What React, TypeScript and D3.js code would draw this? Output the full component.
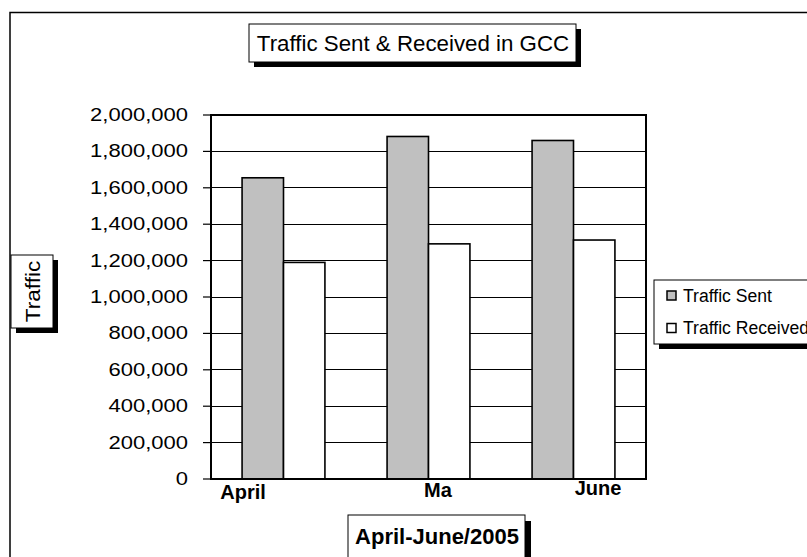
import * as d3 from 'd3';

const categories = ['April', 'Ma', 'June'];
const trafficSent = [1655000, 1882000, 1860000];
const trafficReceived = [1190000, 1292000, 1313000];
const yTicks = [0, 200000, 400000, 600000, 800000, 1000000, 1200000, 1400000, 1600000, 1800000, 2000000];
const seriesNames = ['Traffic Sent', 'Traffic Received'];

const WIDTH = 807;
const HEIGHT = 557;
const FONT = "Arial, 'Liberation Sans', sans-serif";

// plot area box (pixels)
const plot = { left: 211, right: 646, top: 115, bottom: 479 };

// shift of each category label from its band centre, as in the original (labels were clipped/offset)
const labelShift = [{ dx: -40.5, y: 499 }, { dx: 9.5, y: 497 }, { dx: 24.5, y: 495 }];

const ShadowBox = ({ x, y, w, h, off = 5 }: { x: number; y: number; w: number; h: number; off?: number }) => (
  <g>
    <rect x={x + off} y={y + off} width={w} height={h} fill="#000" />
    <rect x={x} y={y} width={w} height={h} fill="#fff" stroke="#000" strokeWidth={1} />
  </g>
);

export default function App() {
  const yScale = d3.scaleLinear().domain([0, 2000000]).range([plot.bottom, plot.top]);
  const xScale = d3.scaleBand<string>()
    .domain(categories)
    .range([plot.left, plot.right])
    .paddingInner(0.4286)
    .paddingOuter(0.2143);
  const xSub = d3.scaleBand<string>().domain(seriesNames).range([0, xScale.bandwidth()]);
  const fmt = d3.format(',');

  const fills = ['#C0C0C0', '#FFFFFF'];
  const series = [trafficSent, trafficReceived];

  return (
    <svg
      width={WIDTH}
      height={HEIGHT}
      style={{ position: 'absolute', left: 0, top: 0, background: '#fff' }}
      fontFamily={FONT}
    >
      <rect x={0} y={0} width={WIDTH} height={HEIGHT} fill="#fff" />
      {/* chart frame */}
      <rect x={10} y={12.5} width={WIDTH + 40} height={HEIGHT + 40} fill="none" stroke="#000" strokeWidth={1.5} />

      {/* title */}
      <ShadowBox x={249} y={24} w={327} h={38} />
      <text x={413} y={50.5} fontSize={22.3} textAnchor="middle" fill="#000">
        Traffic Sent &amp; Received in GCC
      </text>

      {/* gridlines */}
      <g shapeRendering="crispEdges">
        {yTicks.map(t => (
          <line key={t} x1={plot.left} x2={plot.right} y1={yScale(t)} y2={yScale(t)} stroke="#000" strokeWidth={1} />
        ))}
      </g>

      {/* bars */}
      {categories.map((c, i) => (
        <g key={c} transform={`translate(${xScale(c)},0)`}>
          {seriesNames.map((s, j) => (
            <rect
              key={s}
              x={xSub(s)}
              y={yScale(series[j][i])}
              width={xSub.bandwidth()}
              height={yScale(0) - yScale(series[j][i])}
              fill={fills[j]}
              stroke="#000"
              strokeWidth={1.6}
            />
          ))}
        </g>
      ))}

      {/* plot border */}
      <rect
        x={plot.left}
        y={plot.top}
        width={plot.right - plot.left}
        height={plot.bottom - plot.top}
        fill="none"
        stroke="#000"
        strokeWidth={2}
      />

      {/* y axis ticks and labels */}
      {yTicks.map(t => (
        <g key={t}>
          <line x1={203} x2={plot.left} y1={yScale(t)} y2={yScale(t)} stroke="#000" strokeWidth={1.2} />
          <text
            transform={`translate(188,${yScale(t) + 6}) scale(1.19,1)`}
            fontSize={18.5}
            textAnchor="end"
            fill="#000"
          >
            {fmt(t)}
          </text>
        </g>
      ))}

      {/* category labels */}
      {categories.map((c, i) => (
        <text
          key={c}
          x={(xScale(c) as number) + xScale.bandwidth() / 2 + labelShift[i].dx}
          y={labelShift[i].y}
          fontSize={20}
          fontWeight="bold"
          textAnchor="middle"
          fill="#000"
        >
          {c}
        </text>
      ))}

      {/* y axis title */}
      <ShadowBox x={11} y={255} w={42} h={73} />
      <text transform="translate(39.5,291.5) rotate(-90) scale(1.13,1)" fontSize={20} textAnchor="middle" fill="#000">
        Traffic
      </text>

      {/* x axis title */}
      <ShadowBox x={348} y={515} w={177} h={60} off={6} />
      <text x={437} y={543.5} fontSize={22} fontWeight="bold" textAnchor="middle" fill="#000">
        April-June/2005
      </text>

      {/* legend */}
      <ShadowBox x={654} y={280} w={190} h={64} />
      {seriesNames.map((s, j) => (
        <g key={s} transform={`translate(667,${291 + j * 32.5})`}>
          <rect x={0} y={0} width={9} height={9} fill={fills[j]} stroke="#000" strokeWidth={1.5} />
          <text x={16} y={10.5} fontSize={17.6} fill="#000">
            {s}
          </text>
        </g>
      ))}
    </svg>
  );
}
